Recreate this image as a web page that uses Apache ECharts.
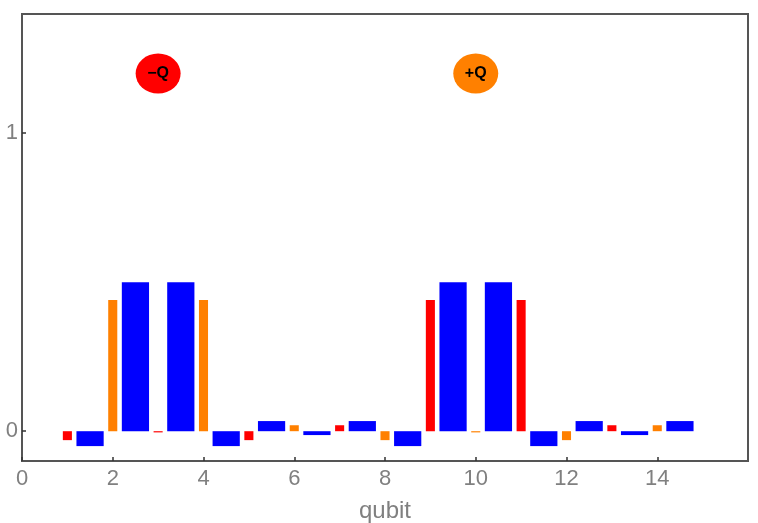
<!DOCTYPE html>
<html>
<head>
<meta charset="utf-8">
<script src="https://cdn.jsdelivr.net/npm/echarts@6/dist/echarts.min.js"></script>
<style>
  html, body { margin: 0; padding: 0; background: #fff; }
  #chart { width: 758px; height: 523px; }
</style>
</head>
<body>
<div id="chart"></div>
<script>
// Bond amplitudes, located between neighbouring qubits
const bondPositions = [1.5, 2.5, 3.5, 4.5, 5.5, 6.5, 7.5, 8.5, 9.5, 10.5, 11.5, 12.5, 13.5, 14.5];
const bondValues    = [-0.05, 0.5, 0.5, -0.05, 0.034, -0.013, 0.034, -0.05, 0.5, 0.5, -0.05, 0.034, -0.013, 0.034];

// On-site amplitudes, one per qubit
const sitePositions = [1, 2, 3, 4, 5, 6, 7, 8, 9, 10, 11, 12, 13, 14];
const siteValues    = [-0.03, 0.44, -0.004, 0.44, -0.03, 0.02, 0.02, -0.03, 0.44, -0.004, 0.44, -0.03, 0.02, 0.02];

// Charge markers
const chargeX      = [3, 10];
const chargeY      = [1.2, 1.2];
const chargeLabels = ['−Q', '+Q'];

// Axis ticks
const xTicks = [0, 2, 4, 6, 8, 10, 12, 14];
const yTicks = [0, 1];

const BLUE = '#0000ff';
const RED = '#ff0000';
const ORANGE = '#ff8000';
const chargeColors = [RED, ORANGE];
const siteColor = (q) => (q % 2 === 1 ? RED : ORANGE);

function barRenderer(width, colorFn) {
  return function (params, api) {
    const x = api.value(0);
    const v = api.value(1);
    const a = api.coord([x - width / 2, 0]);
    const b = api.coord([x + width / 2, v]);
    return {
      type: 'rect',
      shape: {
        x: a[0],
        y: Math.min(a[1], b[1]),
        width: b[0] - a[0],
        height: Math.max(Math.abs(b[1] - a[1]), 1)
      },
      style: { fill: colorFn(x) }
    };
  };
}

const chart = echarts.init(document.getElementById('chart'), null, { renderer: 'canvas' });

chart.setOption({
  animation: false,
  grid: {
    left: 22, right: 10, top: 14, bottom: 62,
    containLabel: false,
    outerBoundsMode: 'none',
    show: true,
    borderColor: '#555',
    borderWidth: 2,
    backgroundColor: '#fff'
  },
  xAxis: {
    type: 'value',
    min: 0, max: 16,
    name: 'qubit',
    nameLocation: 'middle',
    nameGap: 38,
    nameTextStyle: { color: '#808080', fontSize: 24, fontFamily: 'Liberation Sans' },
    splitLine: { show: false },
    axisLine: { show: true, onZero: false, lineStyle: { color: '#555', width: 2 } },
    axisTick: { show: true, inside: true, length: 4, customValues: xTicks, lineStyle: { color: '#333', width: 1.5 } },
    axisLabel: { customValues: xTicks, color: '#808080', fontSize: 22, fontFamily: 'Liberation Sans', margin: 7 }
  },
  yAxis: {
    type: 'value',
    min: -0.1, max: 1.4,
    splitLine: { show: false },
    axisLine: { show: true, onZero: false, lineStyle: { color: '#555', width: 2 } },
    axisTick: { show: true, inside: true, length: 4, customValues: yTicks, lineStyle: { color: '#333', width: 1.5 } },
    axisLabel: { customValues: yTicks, color: '#808080', fontSize: 22, fontFamily: 'Liberation Sans', margin: 4 }
  },
  series: [
    {
      type: 'custom',
      name: 'bonds',
      renderItem: barRenderer(0.6, () => BLUE),
      data: bondPositions.map((x, i) => [x, bondValues[i]])
    },
    {
      type: 'custom',
      name: 'sites',
      renderItem: barRenderer(0.2, (x) => siteColor(x)),
      data: sitePositions.map((x, i) => [x, siteValues[i]])
    },
    {
      type: 'scatter',
      name: 'charges',
      symbol: 'circle',
      symbolSize: [45, 40],
      itemStyle: { opacity: 1 },
      data: chargeX.map((x, i) => ({
        value: [x, chargeY[i]],
        itemStyle: { color: chargeColors[i], opacity: 1 },
        label: { formatter: chargeLabels[i] }
      })),
      label: {
        show: true,
        position: 'inside',
        color: '#000',
        fontSize: 16,
        fontWeight: 'bold',
        fontFamily: 'Liberation Sans'
      }
    }
  ]
});
</script>
</body>
</html>
